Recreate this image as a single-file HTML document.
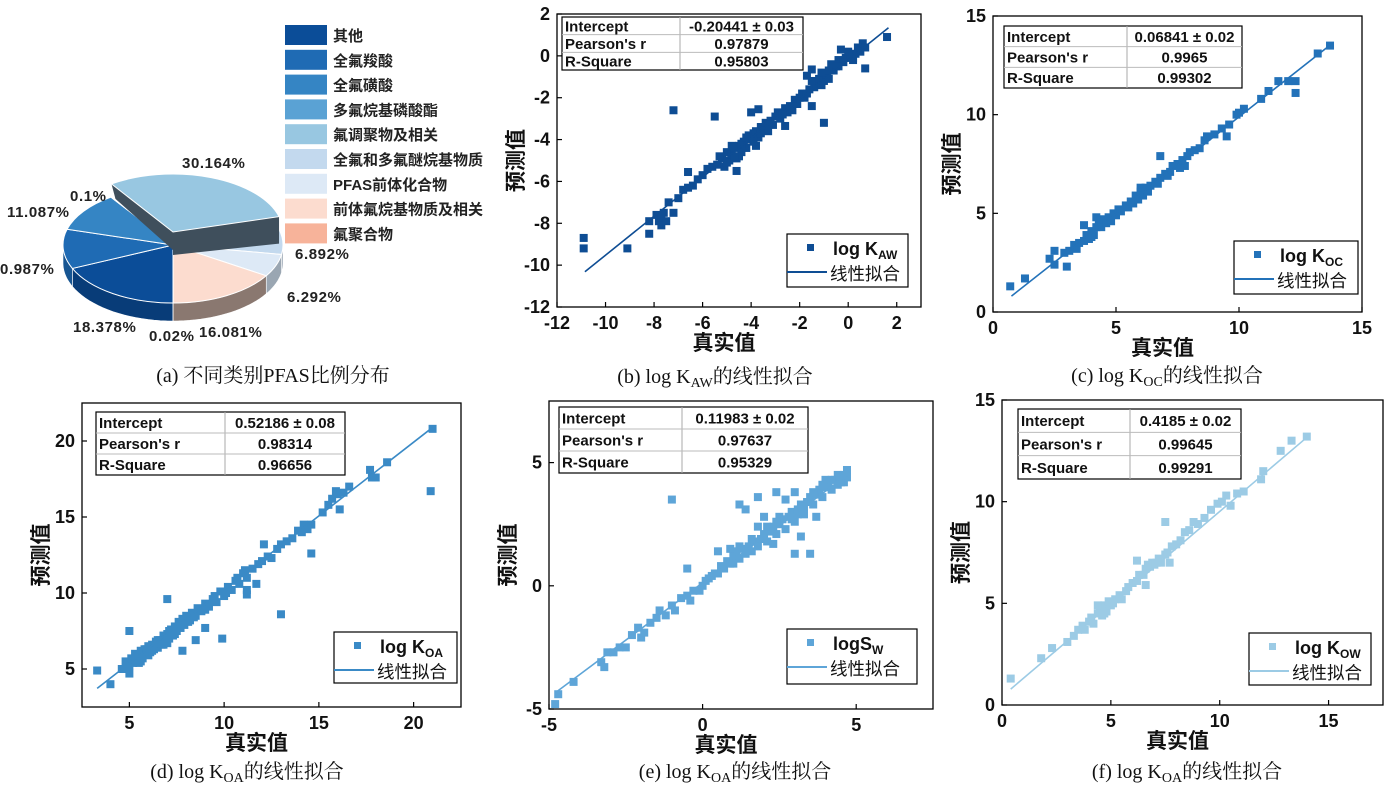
<!DOCTYPE html>
<html><head><meta charset="utf-8">
<style>
html,body{margin:0;padding:0;background:#fff;}
svg{display:block;}
.b{font-family:"Liberation Sans","Noto Sans CJK SC",sans-serif;font-weight:bold;}
.cap{font-family:"Liberation Serif","Noto Serif CJK SC",serif;font-size:20px;}
</style></head>
<body>
<svg id="root" width="1391" height="800" viewBox="0 0 1391 800" xmlns="http://www.w3.org/2000/svg"></svg>
<script>
// ---------- pie data ----------
const pieCategories = ["其他","全氟羧酸","全氟磺酸","多氟烷基磷酸酯","氟调聚物及相关","全氟和多氟醚烷基物质","PFAS前体化合物","前体氟烷基物质及相关","氟聚合物"];
const pieValues = [18.378, 10.987, 11.087, 0.1, 30.164, 6.892, 6.292, 16.081, 0.02];
const pieLabels = ["18.378%","0.987%","11.087%","0.1%","30.164%","6.892%","6.292%","16.081%","0.02%"];
const pieColors = ["#0b4d98","#1f6bb4","#3585c4","#5aa2d4","#98c7e1","#c3d9ee","#dde9f6","#fcdccf","#f7b39a"];
const pieWallColors = ["#083c78","#175592","#2a6aa0","#4884b0","#3f4f5c","#8f9cab","#9aa6b2","#8a7870","#b08a78"];

// ---------- scatter data ----------
const kawPoints = [[-10.9,-8.7],[-10.9,-9.2],[-9.1,-9.2],[-8.2,-8.5],[-7.2,-2.6],[-5.5,-2.9],[-1.7,-0.95],[-1.5,-0.65],[-1.5,-2.4],[-1.0,-3.2],[1.6,0.9],[0.7,-0.6],[-3.7,-2.55],[-4.0,-2.7],[-2.6,-3.35],[-6.6,-5.55],[-4.6,-5.5],[0.2,-0.2],
[-8.2,-7.9],[-7.9,-7.6],[-7.8,-7.9],[-7.7,-8.1],[-7.6,-7.5],[-7.4,-7.0],[-7.2,-7.5],[-7.0,-6.8],[-6.8,-6.4],[-6.6,-6.3],[-6.4,-6.2],[-6.2,-5.9],[-6.0,-5.7],[-5.8,-5.4],[-5.6,-5.3],[-5.4,-5.2],[-5.2,-4.9],[-5.0,-4.6],[-4.9,-5.0],[-4.8,-4.7],[-4.7,-4.4],[-4.6,-4.9],[-4.5,-4.3],[-4.4,-4.6],[-4.3,-4.1],[-4.2,-4.4],[-4.1,-3.8],[-4.0,-4.0],[-3.9,-3.7],[-3.8,-3.6],[-3.7,-3.9],[-3.6,-3.4],[-3.5,-3.5],[-3.4,-3.2],[-3.3,-3.6],[-3.2,-3.1],[-3.0,-2.9],[-2.9,-2.7],[-2.8,-3.0],[-2.6,-2.5],[-2.5,-2.7],[-2.4,-2.4],[-2.2,-2.1],[-2.0,-2.0],[-1.9,-1.8],[-1.8,-2.0],[-1.6,-1.6],[-1.4,-1.5],[-1.3,-1.3],[-1.2,-1.1],[-1.0,-1.2],[-0.9,-0.9],[-0.8,-1.1],[-0.6,-0.7],[-0.5,-0.5],[-0.4,-0.2],[-0.3,0.3],[-0.2,-0.3],[-0.1,-0.1],[0.1,0.0],[0.3,0.1],[0.4,0.4],[0.5,0.2],[0.6,0.6],[0.7,0.4],[-5.1,-5.3],[-4.8,-4.3],[-4.5,-4.8],[-3.8,-4.3],[-3.1,-3.3],[-2.3,-2.6],[-1.1,-0.8],[-0.7,-0.4],
[-7.7,-7.7],[-7.5,-7.9],[-5.3,-4.8],[-5.0,-5.1],[-4.7,-4.8],[-4.4,-4.2],[-4.2,-3.9],[-3.9,-4.1],[-3.6,-3.7],[-3.3,-3.3],[-2.7,-2.8],[-2.1,-2.3],[-1.7,-1.8],[-1.5,-1.2],[-1.1,-1.4],[-0.8,-0.7],[-0.4,-0.5],[0.0,0.2],[0.2,-0.1]];
const kocPoints = [[0.7,1.3],[1.3,1.7],[2.3,2.7],[2.5,3.1],[2.5,2.4],[3.0,2.3],[3.7,4.4],[6.8,7.9],[7.8,7.4],[9.5,8.9],[12.3,11.1],[12.3,11.7],[11.6,11.7],[13.7,13.5],[13.2,13.1],[11.2,11.2],[10.9,10.8],[12.0,11.7],
[2.9,3.0],[3.1,3.1],[3.3,3.4],[3.4,3.2],[3.5,3.5],[3.7,3.6],[3.8,3.9],[3.9,3.7],[4.0,4.1],[4.1,3.9],[4.2,4.3],[4.3,4.6],[4.4,4.3],[4.5,4.7],[4.6,4.5],[4.7,4.8],[4.8,4.6],[4.9,5.0],[5.0,4.9],[5.1,5.2],[5.2,5.1],[5.4,5.4],[5.5,5.3],[5.6,5.6],[5.7,5.5],[5.8,5.9],[5.9,5.7],[6.0,6.1],[6.1,5.9],[6.2,6.3],[6.3,6.1],[6.4,6.4],[6.6,6.6],[6.7,6.5],[6.8,6.8],[7.0,7.0],[7.2,7.1],[7.3,7.4],[7.5,7.5],[7.6,7.3],[7.7,7.7],[7.9,7.9],[8.0,8.1],[8.2,8.2],[8.4,8.3],[8.6,8.7],[8.7,8.9],[9.0,9.0],[9.3,9.3],[9.6,9.5],[9.9,10.0],[10.0,10.1],[10.2,10.3],[4.2,4.8],[4.0,3.8],[6.0,6.3],[7.1,6.9]];
const koaPoints = [[3.3,4.9],[4.0,4.0],[5.0,7.5],[5.0,4.7],[7.0,9.6],[7.8,6.2],[8.5,6.9],[9.0,7.7],[9.9,7.0],[11.2,10.2],[11.2,9.9],[11.7,10.6],[13.0,8.6],[14.6,12.6],[16.1,15.5],[17.7,18.1],[18.6,18.6],[17.8,17.6],[18.0,17.6],[20.9,16.7],[21.0,20.8],[12.1,13.2],
[4.6,5.0],[4.8,5.5],[5.0,5.2],[5.1,5.7],[5.2,5.4],[5.3,6.0],[5.4,5.5],[5.5,5.9],[5.6,6.2],[5.7,5.7],[5.8,6.3],[5.9,6.0],[6.0,6.5],[6.1,6.1],[6.2,6.6],[6.3,6.3],[6.4,6.8],[6.5,6.4],[6.6,6.9],[6.7,6.6],[6.8,7.2],[6.9,6.8],[7.0,7.3],[7.1,7.0],[7.2,7.6],[7.3,7.2],[7.4,7.8],[7.5,7.5],[7.6,8.1],[7.7,7.7],[7.8,8.3],[7.9,7.9],[8.0,8.5],[8.2,8.2],[8.3,8.7],[8.5,8.5],[8.6,9.0],[8.8,8.8],[9.0,9.3],[9.2,9.1],[9.4,9.6],[9.6,9.4],[9.8,10.1],[10.0,9.8],[10.2,10.4],[10.4,10.2],[10.6,10.8],[10.8,10.6],[11.0,11.3],[11.2,11.0],[11.5,11.6],[11.8,11.9],[12.0,12.1],[12.3,12.4],[12.5,12.3],[12.8,12.9],[13.0,13.2],[13.3,13.4],[13.6,13.6],[13.9,14.1],[14.2,14.5],[14.4,14.2],[14.6,14.5],[15.2,15.3],[15.5,15.8],[15.7,16.2],[16.0,16.5],[16.3,16.6],[16.6,17.0],[5.5,5.4],[6.0,5.9],[6.5,6.9],[7.0,6.7],
[5.3,5.6],[5.6,5.5],[5.9,6.3],[6.2,6.2],[6.5,6.7],[6.8,6.6],[7.1,7.5],[7.4,7.3],[7.7,8.0],[8.1,8.1],[8.4,8.4],[9.0,8.9],[9.5,9.8],[10.1,10.0],[10.7,11.0],[11.1,11.5],[14.1,14.0],[15.9,16.7]];
const swPoints = [[-4.8,-4.8],[-4.7,-4.4],[-4.2,-3.9],[-1.0,3.5],[-0.5,0.7],[0.5,1.4],[1.2,3.3],[1.4,3.1],[1.8,3.6],[2.0,2.8],[2.4,3.8],[2.7,3.5],[3.0,3.8],[3.0,1.3],[3.5,1.3],[3.2,2.0],[3.7,2.8],[2.3,1.7],[4.7,4.7],[1.8,2.4],
[-3.3,-3.1],[-3.2,-3.3],[-3.1,-2.7],[-2.9,-2.7],[-2.7,-2.5],[-2.5,-2.5],[-2.3,-2.0],[-2.1,-1.7],[-2.0,-2.1],[-1.9,-1.9],[-1.7,-1.5],[-1.5,-1.3],[-1.4,-1.0],[-1.2,-1.2],[-1.0,-0.8],[-0.9,-1.0],[-0.7,-0.5],[-0.5,-0.4],[-0.4,-0.6],[-0.3,-0.2],[-0.1,-0.2],[0.0,0.0],[0.1,0.2],[0.2,0.3],[0.3,0.4],[0.4,0.5],[0.5,0.5],[0.6,0.8],[0.7,0.7],[0.8,1.0],[0.9,0.9],[1.0,1.2],[1.0,0.9],[1.1,1.4],[1.2,1.1],[1.3,1.5],[1.4,1.3],[1.5,1.6],[1.6,1.4],[1.7,1.8],[1.8,1.6],[1.9,1.9],[2.0,2.1],[2.1,1.8],[2.2,2.2],[2.3,2.4],[2.4,2.1],[2.5,2.5],[2.6,2.7],[2.7,2.3],[2.8,2.8],[2.9,3.0],[3.0,2.6],[3.1,3.1],[3.2,3.3],[3.3,2.9],[3.4,3.4],[3.5,3.6],[3.6,3.3],[3.7,3.7],[3.8,3.9],[3.9,3.6],[4.0,4.0],[4.1,4.2],[4.2,3.9],[4.3,4.3],[4.4,4.1],[4.5,4.4],[4.6,4.2],[4.7,4.4],[4.0,4.3],[4.4,4.5],
[0.9,1.5],[1.2,1.6],[1.6,1.9],[2.1,2.4],[2.5,2.8],[2.9,2.7],[3.3,3.2],[3.6,3.8],[3.9,4.1],[4.2,4.3],[4.5,4.2],[4.6,4.5],[2.4,2.6],[3.1,2.9]];
const kowPoints = [[0.4,1.3],[1.8,2.3],[2.3,2.8],[6.2,7.1],[6.6,5.9],[7.5,9.0],[7.7,7.0],[13.3,13.0],[14.0,13.2],[12.8,12.5],[12.0,11.5],[11.9,11.1],[11.1,10.5],[10.8,10.4],[10.5,9.8],
[3.0,3.1],[3.3,3.4],[3.5,3.7],[3.7,3.9],[3.8,3.7],[4.0,4.1],[4.1,4.3],[4.2,4.0],[4.4,4.5],[4.5,4.8],[4.6,4.4],[4.7,4.9],[4.8,4.6],[4.9,5.1],[5.0,4.9],[5.2,5.2],[5.4,5.4],[5.5,5.2],[5.7,5.6],[5.8,5.8],[6.0,6.0],[6.2,6.1],[6.3,6.4],[6.5,6.4],[6.6,6.7],[6.8,6.8],[6.9,7.0],[7.0,6.9],[7.2,7.2],[7.3,7.0],[7.5,7.4],[7.6,7.5],[7.8,7.8],[8.0,7.9],[8.2,8.1],[8.4,8.5],[8.6,8.6],[8.8,9.0],[9.0,8.9],[9.3,9.2],[9.6,9.6],[9.9,9.9],[10.1,10.0],[10.3,10.3],[4.4,4.9],[4.7,4.5],[5.1,5.0],[6.7,6.9],[7.1,7.0]];

const fitSlopes = [0.932, 0.982, 0.97, 0.93, 0.91];
const fitIntercepts = [-0.20441, 0.06841, 0.52186, 0.11983, 0.4185];
const fitRangesX = [[-10.85,1.66],[0.75,13.7],[3.3,21.0],[-4.8,4.8],[0.4,14.0]];
const statsIntercept = ["-0.20441 ± 0.03","0.06841 ± 0.02","0.52186 ± 0.08","0.11983 ± 0.02","0.4185 ± 0.02"];
const statsPearson = ["0.97879","0.9965","0.98314","0.97637","0.99645"];
const statsR2 = ["0.95803","0.99302","0.96656","0.95329","0.99291"];
const xTicksB = [-12,-10,-8,-6,-4,-2,0,2], yTicksB = [-12,-10,-8,-6,-4,-2,0,2];
const xTicksC = [0,5,10,15], yTicksC = [0,5,10,15];
const xTicksD = [5,10,15,20], yTicksD = [5,10,15,20];
const xTicksE = [-5,0,5], yTicksE = [-5,0,5];
const xTicksF = [0,5,10,15], yTicksF = [0,5,10,15];

const NS = "http://www.w3.org/2000/svg";
const root = document.getElementById('root');
function mk(tag, attrs, parent){const e=document.createElementNS(NS,tag);for(const k in attrs)e.setAttribute(k,attrs[k]);(parent||root).appendChild(e);return e;}

// ---------- pie ----------
const pieG = mk('g',{});


const cx=173, cy=245, rx=110, ry=58, depth=18, lift=13;
function pt(th,dy){const r=th*Math.PI/180;return [cx-rx*Math.sin(r), cy+ry*Math.cos(r)+(dy||0)];}
const total = pieValues.reduce((a,b)=>a+b,0);
let acc=0; const ranges=[];
pieValues.forEach(v=>{const a=acc/total*360; acc+=v; ranges.push([a,acc/total*360]);});
ranges.forEach((r,i)=>{
  if(i===4) return;
  const segs=[[0,90],[270,360]];
  segs.forEach(s=>{
    const a=Math.max(r[0],s[0]), b=Math.min(r[1],s[1]);
    if(b-a<0.05) return;
    const top=[],bot=[];
    for(let k=0;k<=20;k++){const t=a+(b-a)*k/20;top.push(pt(t,0));bot.push(pt(t,depth));}
    const pts=top.concat(bot.reverse()).map(p=>p.join(',')).join(' ');
    const w=mk('polygon',{points:pts,fill:pieWallColors[i],stroke:'#fff','stroke-width':0.6},pieG);
    
    
  });
});
function slicePath(a,b,dy){const p1=pt(a,dy),p2=pt(b,dy);const large=(b-a)>180?1:0;return `M${cx},${cy+dy} L${p1[0]},${p1[1]} A${rx},${ry} 0 ${large} 1 ${p2[0]},${p2[1]} Z`;}
ranges.forEach((r,i)=>{
  if(i===4) return;
  const s=mk('path',{d:slicePath(r[0],r[1],0),fill:pieColors[i],stroke:'#fff','stroke-width':1},pieG);
  
  
});
(function(){
  const r=ranges[4];
  const apex=[cx,cy-lift], pl=pt(r[0],-lift), pr=pt(r[1],-lift);
  const wl=mk('polygon',{points:`${apex[0]},${apex[1]} ${pl[0]},${pl[1]} ${pl[0]+4},${pl[1]+15} ${cx},${cy+5}`,fill:'#3f4f5c'},pieG);
  
  
  const wr=mk('polygon',{points:`${apex[0]},${apex[1]} ${pr[0]},${pr[1]} ${pr[0]},${pr[1]+27} ${cx},${cy+10}`,fill:'#3f4f5c'},pieG);
  
  
  const s=mk('path',{d:slicePath(r[0],r[1],-lift),fill:pieColors[4],stroke:'#fff','stroke-width':1},pieG);
  
  
})();
const pieLabelPos=[[73,332],[0,274],[7,217],[70,201],[182,168],[295,259],[287,302],[199,337],[149,341]];
pieLabels.forEach((t,i)=>{
  const e=mk('text',{x:pieLabelPos[i][0],y:pieLabelPos[i][1],class:'b','font-size':15,fill:'#222','letter-spacing':'0.6'},pieG);
  e.textContent=t;
  
  
});
pieCategories.forEach((c,i)=>{
  const y=25+i*24.8;
  const sw=mk('rect',{x:285,y:y,width:42,height:20,fill:pieColors[i]},pieG);
  
  
  const t=mk('text',{x:333,y:y+16,class:'b','font-size':15,fill:'#222'},pieG);
  t.textContent=c;
  
  
});

// ---------- scatter panels ----------
const panels=[
 {id:'b',L:557,R:921,T:14,B:307,xmin:-12,xmax:3,ymin:-12,ymax:2,xt:xTicksB,yt:yTicksB,pts:kawPoints,color:'#0e4d94',tbl:[562,803,17,70,680],leg:[787,908,234,287],lab:'log K',sub:'AW',cap:['(b) log K','AW','的线性拟合'],capX:715,capY:383},
 {id:'c',L:993,R:1362,T:16,B:312,xmin:0,xmax:15,ymin:0,ymax:15,xt:xTicksC,yt:yTicksC,pts:kocPoints,color:'#2372b9',tbl:[1004,1242,26,88,1127],leg:[1234,1358,241,294],lab:'log K',sub:'OC',cap:['(c) log K','OC','的线性拟合'],capX:1167,capY:382},
 {id:'d',L:82,R:461,T:403,B:707,xmin:2.5,xmax:22.5,ymin:2.5,ymax:22.5,xt:xTicksD,yt:yTicksD,pts:koaPoints,color:'#3a8ac6',tbl:[96,345,412,475,225],leg:[334,457,632,683],lab:'log K',sub:'OA',cap:['(d) log K','OA','的线性拟合'],capX:247,capY:778},
 {id:'e',L:549,R:933,T:401,B:709,xmin:-5,xmax:7.5,ymin:-5,ymax:7.5,xt:xTicksE,yt:yTicksE,pts:swPoints,color:'#5ea5d8',tbl:[559,808,407,473,682],leg:[787,917,629,684],lab:'logS',sub:'W',cap:['(e) log K','OA','的线性拟合'],capX:735,capY:778},
 {id:'f',L:1002,R:1383,T:400,B:705,xmin:0,xmax:17.5,ymin:0,ymax:15,xt:xTicksF,yt:yTicksF,pts:kowPoints,color:'#9ccbe5',tbl:[1018,1241,409,479,1130],leg:[1249,1371,633,685],lab:'log K',sub:'OW',cap:['(f) log K','OA','的线性拟合'],capX:1187,capY:778}
];
panels.forEach((p,pi)=>{
  const g=mk('g',{});
  
  
  const sx=v=>p.L+(v-p.xmin)/(p.xmax-p.xmin)*(p.R-p.L);
  const sy=v=>p.B-(v-p.ymin)/(p.ymax-p.ymin)*(p.B-p.T);
  const frame=mk('rect',{x:p.L,y:p.T,width:p.R-p.L,height:p.B-p.T,fill:'none',stroke:'#000','stroke-width':1.3},g);
  
  
  p.xt.forEach(v=>{
    const x=sx(v);
    mk('line',{x1:x,x2:x,y1:p.B,y2:p.B-5,stroke:'#000','stroke-width':1.2},g);
    const t=mk('text',{x:x,y:p.B+22,'text-anchor':'middle',class:'b','font-size':18,fill:'#111'},g);
    t.textContent=v;
    
    
  });
  p.yt.forEach(v=>{
    const y=sy(v);
    mk('line',{x1:p.L,x2:p.L+5,y1:y,y2:y,stroke:'#000','stroke-width':1.2},g);
    const t=mk('text',{x:p.L-7,y:y+6,'text-anchor':'end',class:'b','font-size':18,fill:'#111'},g);
    t.textContent=v;
    
    
  });
  const yt=mk('text',{x:0,y:0,transform:`translate(${p.L-34},${(p.T+p.B)/2}) rotate(-90)`,'text-anchor':'middle',class:'b','font-size':21,fill:'#111'},g);
  yt.textContent='预测值';
  
  
  const xt=mk('text',{x:(p.L+p.R)/2-15,y:p.B+43,'text-anchor':'middle',class:'b','font-size':21,fill:'#111'},g);
  xt.textContent='真实值';
  
  
  p.pts.forEach(d=>{
    const r=mk('rect',{x:sx(d[0])-4,y:sy(d[1])-4,width:8,height:8,fill:p.color},g);
    
    
  });
  const fx=fitRangesX[pi], m=fitSlopes[pi], c=fitIntercepts[pi];
  const fl=mk('line',{x1:sx(fx[0]),y1:sy(m*fx[0]+c),x2:sx(fx[1]),y2:sy(m*fx[1]+c),stroke:p.color,'stroke-width':1.6},g);
  
  
  const [tl,tr,tt,tb,ts]=p.tbl, rh=(tb-tt)/3;
  const tg=mk('g',{},g);
  
  
  mk('rect',{x:tl,y:tt,width:tr-tl,height:tb-tt,fill:'#fff',stroke:'#000','stroke-width':1.2},tg);
  mk('line',{x1:ts,x2:ts,y1:tt,y2:tb,stroke:'#aaa','stroke-width':1},tg);
  for(let k=1;k<3;k++) mk('line',{x1:tl,x2:tr,y1:tt+rh*k,y2:tt+rh*k,stroke:'#bbb','stroke-width':1},tg);
  const rowsL=["Intercept","Pearson's r","R-Square"], rowsR=[statsIntercept[pi],statsPearson[pi],statsR2[pi]];
  for(let k=0;k<3;k++){
    const a=mk('text',{x:tl+3,y:tt+rh*k+rh/2+5.5,class:'b','font-size':15,fill:'#111'},tg);a.textContent=rowsL[k];
    const b=mk('text',{x:(ts+tr)/2,y:tt+rh*k+rh/2+5.5,'text-anchor':'middle',class:'b','font-size':15,fill:'#111'},tg);b.textContent=rowsR[k];
  }
  const [ll,lr,lt,lb]=p.leg;
  const lg=mk('g',{},g);
  
  
  mk('rect',{x:ll,y:lt,width:lr-ll,height:lb-lt,fill:'#fff',stroke:'#000','stroke-width':1.2},lg);
  mk('rect',{x:ll+20,y:lt+10,width:7,height:7,fill:p.color},lg);
  const lt1=mk('text',{x:ll+46,y:lt+21,class:'b','font-size':18,fill:'#111'},lg);
  lt1.textContent=p.lab;
  const sub=mk('tspan',{'font-size':12,dy:4},lt1);sub.textContent=p.sub;
  mk('line',{x1:ll,x2:ll+40,y1:lt+38,y2:lt+38,stroke:p.color,'stroke-width':2},lg);
  const lt2=mk('text',{x:ll+43,y:lt+46,'font-family':'"Noto Sans CJK SC",sans-serif','font-size':17.5,fill:'#111'},lg);
  lt2.textContent='线性拟合';
  const cp=mk('text',{x:p.capX,y:p.capY,'text-anchor':'middle',class:'cap',fill:'#111'});
  cp.textContent=p.cap[0];
  const s2=mk('tspan',{'font-size':14,dy:4},cp);s2.textContent=p.cap[1];
  const s3=mk('tspan',{dy:-4},cp);s3.textContent=p.cap[2];
  
  
});
const capA=mk('text',{x:273,y:382,'text-anchor':'middle',class:'cap',fill:'#111'});
capA.textContent='(a) 不同类别PFAS比例分布';


</script>
</body></html>
